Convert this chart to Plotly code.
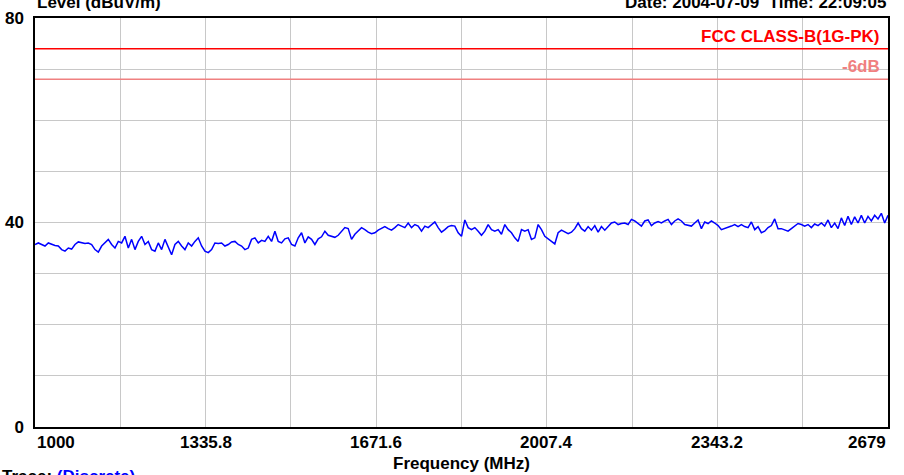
import numpy as np
import plotly.graph_objects as go

# ---------------- data ----------------
f_start = 1000.0
f_stop = 2679.0

level_dbuv = [
    35.7, 36.0, 35.7, 35.4, 36.0, 35.7, 35.5, 35.4, 34.7, 34.4,
    35.0, 34.8, 35.7, 36.2, 36.0, 35.9, 36.0, 35.7, 34.7, 34.2,
    35.4, 36.0, 36.7, 35.7, 35.0, 36.3, 36.0, 37.3, 35.0, 36.7,
    34.7, 36.3, 37.3, 35.7, 36.3, 34.7, 34.4, 36.0, 34.7, 36.7,
    35.0, 33.7, 35.7, 36.3, 35.4, 34.7, 36.0, 35.4, 36.3, 37.0,
    35.4, 34.4, 34.1, 34.7, 36.0, 35.9, 36.0, 35.4, 35.7, 36.2,
    36.3, 35.7, 35.4, 34.7, 35.0, 36.7, 37.0, 36.0, 36.5, 36.3,
    37.3, 36.3, 38.3, 36.3, 36.0, 36.8, 37.0, 35.7, 35.4, 37.0,
    38.0, 36.0, 37.2, 36.7, 35.7, 36.8, 37.2, 38.3, 37.5,
    37.3, 37.1, 37.5, 38.3, 39.0, 38.8, 36.7, 37.7, 38.3, 39.0,
    38.6, 38.1, 37.8, 38.0, 38.5, 38.8, 39.2, 38.8, 38.5, 39.0,
    39.6, 39.3, 39.0, 39.9, 39.0, 39.6, 39.3, 38.3, 39.3, 39.0,
    39.6, 40.1, 39.0, 38.1, 38.6, 39.2, 39.4, 39.3, 38.0, 37.3,
    40.5, 39.0, 38.6, 39.0, 38.3, 37.5, 38.3, 39.6, 38.6, 38.3,
    38.6, 37.7, 39.6, 38.6, 38.0, 37.0, 36.3, 38.6, 38.3, 38.6,
    36.7, 37.0, 39.6, 38.6, 37.3, 36.7, 36.3, 35.8, 38.0, 38.5,
    38.1, 37.8, 38.1, 38.8, 39.9, 38.8, 38.3, 39.2, 38.5, 39.4,
    38.1, 39.2, 38.5, 39.3, 39.9, 40.1, 39.6,
    39.8, 39.9, 39.6, 40.6, 40.3, 39.8, 39.3, 40.3, 40.5, 39.4,
    39.9, 40.2, 39.9, 40.3, 40.6, 39.6, 40.3, 40.7, 40.3, 39.6,
    39.4, 39.3, 39.9, 40.5, 38.8, 40.1, 39.8, 40.3, 39.9, 39.4,
    38.6, 38.8, 39.0, 39.3, 39.6, 39.2, 39.6, 39.2, 39.0, 40.1,
    38.6, 39.2, 38.0, 38.3, 39.0, 39.4, 40.7, 38.8, 38.8, 38.5,
    38.3, 38.8, 39.3, 39.8, 39.6, 39.3, 39.6, 39.0, 39.7, 39.4,
    39.9, 39.3, 40.5, 39.0, 39.9, 38.8, 40.9, 39.4, 41.2, 39.6,
    41.1, 39.9, 41.4, 39.9, 41.2, 40.3, 41.4, 40.7, 41.8, 39.9,
    41.4,
]

limit_name = "FCC CLASS-B(1G-PK)"
limit_db = 74
margin_name = "-6dB"
margin_db = 68

x_grid = [1000, 1167.9, 1335.8, 1503.7, 1671.6, 1839.5, 2007.4,
          2175.3, 2343.2, 2511.1, 2679]
x_label_vals = [1000, 1335.8, 1671.6, 2007.4, 2343.2, 2679]
x_label_text = ["1000", "1335.8", "1671.6", "2007.4", "2343.2", "2679"]
y_label_vals = [0, 40, 80]
y_label_text = ["0", "40", "80"]

freq_mhz = np.linspace(f_start, f_stop, len(level_dbuv))

# ---------------- figure ----------------
FONT = "Liberation Sans, Arial, sans-serif"
fig = go.Figure()

fig.add_trace(go.Scatter(
    x=[f_start, f_stop], y=[limit_db, limit_db], mode="lines",
    line=dict(color="#ff0000", width=1.5), hoverinfo="skip", showlegend=False))
fig.add_trace(go.Scatter(
    x=[f_start, f_stop], y=[margin_db, margin_db], mode="lines",
    line=dict(color="#f08080", width=1.5), hoverinfo="skip", showlegend=False))
fig.add_trace(go.Scatter(
    x=freq_mhz, y=level_dbuv, mode="lines",
    line=dict(color="#0000ff", width=1.5), showlegend=False))

annos = []
for i, (v, t) in enumerate(zip(x_label_vals, x_label_text)):
    anchor = "left" if i == 0 else ("right" if i == len(x_label_vals) - 1 else "center")
    annos.append(dict(x=v, xref="x", y=0, yref="paper", text=t, showarrow=False,
                      xanchor=anchor, yanchor="top", yshift=-4,
                      font=dict(family=FONT, size=17, color="#000", weight="bold")))

annos += [
    dict(x=f_stop, xref="x", y=limit_db, yref="y", text=limit_name, showarrow=False,
         xanchor="right", yanchor="bottom", xshift=-6, yshift=1,
         font=dict(family=FONT, size=17, color="#ff0000", weight="bold")),
    dict(x=f_stop, xref="x", y=margin_db, yref="y", text=margin_name, showarrow=False,
         xanchor="right", yanchor="bottom", xshift=-6, yshift=1,
         font=dict(family=FONT, size=17, color="#f08080", weight="bold")),
    dict(x=0, xref="paper", y=1.038, yref="paper", text="Level (dBuV/m)", showarrow=False,
         xanchor="left", yanchor="middle",
         font=dict(family=FONT, size=17, color="#000", weight="bold")),
    dict(x=1, xref="paper", y=1.038, yref="paper",
         text="Date: 2004-07-09\u00a0\u00a0Time: 22:09:05", showarrow=False,
         xanchor="right", yanchor="middle",
         font=dict(family=FONT, size=17, color="#000", weight="bold")),
    dict(x=0, xref="paper", y=-0.12, yref="paper",
         text="Trace: <span style='color:#0000ff'>(Discrete)</span>", showarrow=False,
         xanchor="left", yanchor="middle", xshift=-35,
         font=dict(family=FONT, size=17, color="#000", weight="bold")),
]

fig.update_layout(
    width=904, height=475,
    margin=dict(l=35, r=16, t=18, b=48, autoexpand=False),
    paper_bgcolor="white", plot_bgcolor="white",
    font=dict(family=FONT, size=17, color="#000"),
    annotations=annos,
    xaxis=dict(
        range=[f_start, f_stop], tickmode="array", tickvals=x_grid,
        showticklabels=False, ticks="", automargin=False,
        showgrid=True, gridcolor="#c8c8c8", gridwidth=1,
        showline=True, linecolor="#000", linewidth=1.5, mirror=True,
        zeroline=False,
        title=dict(text="Frequency (MHz)", standoff=29,
                   font=dict(family=FONT, size=17, color="#000", weight="bold")),
    ),
    yaxis=dict(
        range=[0, 80], tickmode="array", tickvals=y_label_vals, ticktext=y_label_text,
        ticks="", ticklabelstandoff=6, automargin=False,
        tickfont=dict(family=FONT, size=17, color="#000", weight="bold"),
        showgrid=True, gridcolor="#c8c8c8", gridwidth=1,
        minor=dict(dtick=10, showgrid=True, gridcolor="#c8c8c8", gridwidth=1, ticks=""),
        showline=True, linecolor="#000", linewidth=1.5, mirror=True,
        zeroline=False,
    ),
)

fig.write_html("out.html", config={"displayModeBar": False},
               post_script="document.body.style.margin='0';")
